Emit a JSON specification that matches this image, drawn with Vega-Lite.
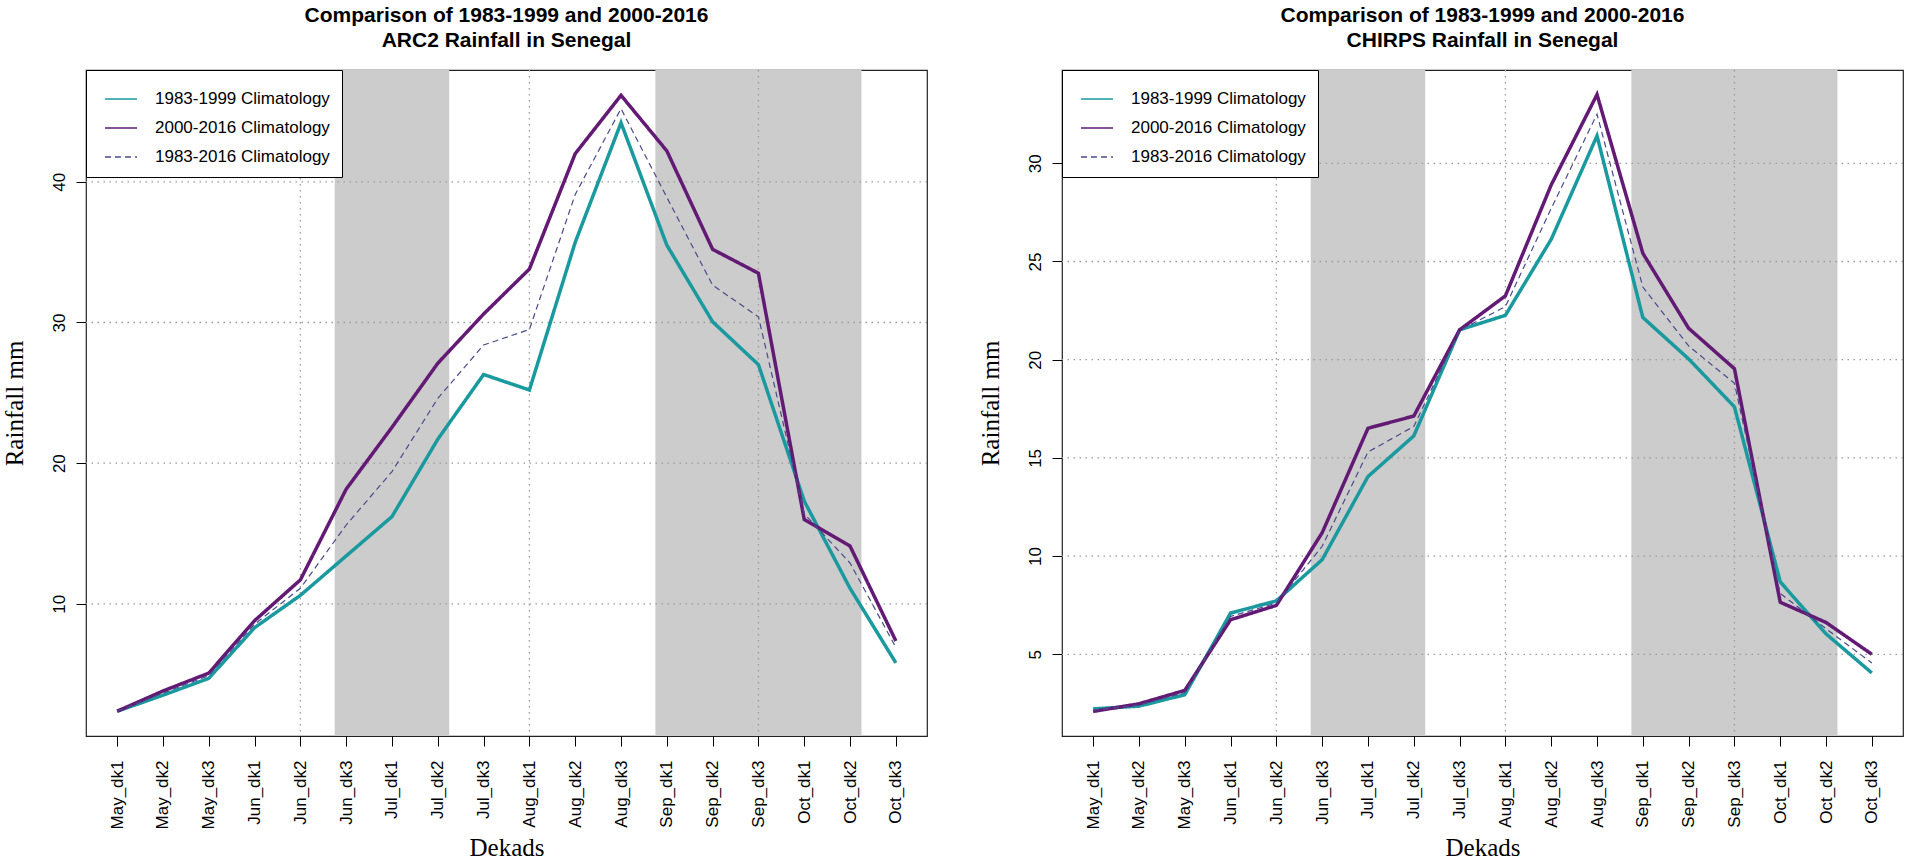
{
  "$schema": "https://vega.github.io/schema/vega-lite/v6.json",
  "background": "white",
  "padding": {"left": 1, "top": 4, "right": 0, "bottom": 0},
  "datasets": {
    "arc2": [
      {"idx": 1, "dekad": "May_dk1", "series": "1983-1999 Climatology", "rain": 2.36},
      {"idx": 2, "dekad": "May_dk2", "series": "1983-1999 Climatology", "rain": 3.5},
      {"idx": 3, "dekad": "May_dk3", "series": "1983-1999 Climatology", "rain": 4.7},
      {"idx": 4, "dekad": "Jun_dk1", "series": "1983-1999 Climatology", "rain": 8.3},
      {"idx": 5, "dekad": "Jun_dk2", "series": "1983-1999 Climatology", "rain": 10.6},
      {"idx": 6, "dekad": "Jun_dk3", "series": "1983-1999 Climatology", "rain": 13.4},
      {"idx": 7, "dekad": "Jul_dk1", "series": "1983-1999 Climatology", "rain": 16.2},
      {"idx": 8, "dekad": "Jul_dk2", "series": "1983-1999 Climatology", "rain": 21.7},
      {"idx": 9, "dekad": "Jul_dk3", "series": "1983-1999 Climatology", "rain": 26.3},
      {"idx": 10, "dekad": "Aug_dk1", "series": "1983-1999 Climatology", "rain": 25.2},
      {"idx": 11, "dekad": "Aug_dk2", "series": "1983-1999 Climatology", "rain": 35.7},
      {"idx": 12, "dekad": "Aug_dk3", "series": "1983-1999 Climatology", "rain": 44.2},
      {"idx": 13, "dekad": "Sep_dk1", "series": "1983-1999 Climatology", "rain": 35.5},
      {"idx": 14, "dekad": "Sep_dk2", "series": "1983-1999 Climatology", "rain": 30.05},
      {"idx": 15, "dekad": "Sep_dk3", "series": "1983-1999 Climatology", "rain": 27.0},
      {"idx": 16, "dekad": "Oct_dk1", "series": "1983-1999 Climatology", "rain": 17.3},
      {"idx": 17, "dekad": "Oct_dk2", "series": "1983-1999 Climatology", "rain": 11.1},
      {"idx": 18, "dekad": "Oct_dk3", "series": "1983-1999 Climatology", "rain": 5.8},
      {"idx": 1, "dekad": "May_dk1", "series": "2000-2016 Climatology", "rain": 2.36},
      {"idx": 2, "dekad": "May_dk2", "series": "2000-2016 Climatology", "rain": 3.8},
      {"idx": 3, "dekad": "May_dk3", "series": "2000-2016 Climatology", "rain": 5.07},
      {"idx": 4, "dekad": "Jun_dk1", "series": "2000-2016 Climatology", "rain": 8.8},
      {"idx": 5, "dekad": "Jun_dk2", "series": "2000-2016 Climatology", "rain": 11.7},
      {"idx": 6, "dekad": "Jun_dk3", "series": "2000-2016 Climatology", "rain": 18.15},
      {"idx": 7, "dekad": "Jul_dk1", "series": "2000-2016 Climatology", "rain": 22.55},
      {"idx": 8, "dekad": "Jul_dk2", "series": "2000-2016 Climatology", "rain": 27.1},
      {"idx": 9, "dekad": "Jul_dk3", "series": "2000-2016 Climatology", "rain": 30.6},
      {"idx": 10, "dekad": "Aug_dk1", "series": "2000-2016 Climatology", "rain": 33.8},
      {"idx": 11, "dekad": "Aug_dk2", "series": "2000-2016 Climatology", "rain": 42.0},
      {"idx": 12, "dekad": "Aug_dk3", "series": "2000-2016 Climatology", "rain": 46.15},
      {"idx": 13, "dekad": "Sep_dk1", "series": "2000-2016 Climatology", "rain": 42.2},
      {"idx": 14, "dekad": "Sep_dk2", "series": "2000-2016 Climatology", "rain": 35.2},
      {"idx": 15, "dekad": "Sep_dk3", "series": "2000-2016 Climatology", "rain": 33.5},
      {"idx": 16, "dekad": "Oct_dk1", "series": "2000-2016 Climatology", "rain": 16.0},
      {"idx": 17, "dekad": "Oct_dk2", "series": "2000-2016 Climatology", "rain": 14.1},
      {"idx": 18, "dekad": "Oct_dk3", "series": "2000-2016 Climatology", "rain": 7.36},
      {"idx": 1, "dekad": "May_dk1", "series": "1983-2016 Climatology", "rain": 2.36},
      {"idx": 2, "dekad": "May_dk2", "series": "1983-2016 Climatology", "rain": 3.65},
      {"idx": 3, "dekad": "May_dk3", "series": "1983-2016 Climatology", "rain": 4.9},
      {"idx": 4, "dekad": "Jun_dk1", "series": "1983-2016 Climatology", "rain": 8.55},
      {"idx": 5, "dekad": "Jun_dk2", "series": "1983-2016 Climatology", "rain": 11.1},
      {"idx": 6, "dekad": "Jun_dk3", "series": "1983-2016 Climatology", "rain": 15.6},
      {"idx": 7, "dekad": "Jul_dk1", "series": "1983-2016 Climatology", "rain": 19.4},
      {"idx": 8, "dekad": "Jul_dk2", "series": "1983-2016 Climatology", "rain": 24.6},
      {"idx": 9, "dekad": "Jul_dk3", "series": "1983-2016 Climatology", "rain": 28.4},
      {"idx": 10, "dekad": "Aug_dk1", "series": "1983-2016 Climatology", "rain": 29.5},
      {"idx": 11, "dekad": "Aug_dk2", "series": "1983-2016 Climatology", "rain": 39.1},
      {"idx": 12, "dekad": "Aug_dk3", "series": "1983-2016 Climatology", "rain": 45.2},
      {"idx": 13, "dekad": "Sep_dk1", "series": "1983-2016 Climatology", "rain": 38.9},
      {"idx": 14, "dekad": "Sep_dk2", "series": "1983-2016 Climatology", "rain": 32.65},
      {"idx": 15, "dekad": "Sep_dk3", "series": "1983-2016 Climatology", "rain": 30.4},
      {"idx": 16, "dekad": "Oct_dk1", "series": "1983-2016 Climatology", "rain": 16.4},
      {"idx": 17, "dekad": "Oct_dk2", "series": "1983-2016 Climatology", "rain": 12.9},
      {"idx": 18, "dekad": "Oct_dk3", "series": "1983-2016 Climatology", "rain": 6.9}
    ],
    "chirps": [
      {"idx": 1, "dekad": "May_dk1", "series": "1983-1999 Climatology", "rain": 2.22},
      {"idx": 2, "dekad": "May_dk2", "series": "1983-1999 Climatology", "rain": 2.36},
      {"idx": 3, "dekad": "May_dk3", "series": "1983-1999 Climatology", "rain": 2.94},
      {"idx": 4, "dekad": "Jun_dk1", "series": "1983-1999 Climatology", "rain": 7.1},
      {"idx": 5, "dekad": "Jun_dk2", "series": "1983-1999 Climatology", "rain": 7.72},
      {"idx": 6, "dekad": "Jun_dk3", "series": "1983-1999 Climatology", "rain": 9.82},
      {"idx": 7, "dekad": "Jul_dk1", "series": "1983-1999 Climatology", "rain": 14.05},
      {"idx": 8, "dekad": "Jul_dk2", "series": "1983-1999 Climatology", "rain": 16.12},
      {"idx": 9, "dekad": "Jul_dk3", "series": "1983-1999 Climatology", "rain": 21.52},
      {"idx": 10, "dekad": "Aug_dk1", "series": "1983-1999 Climatology", "rain": 22.26},
      {"idx": 11, "dekad": "Aug_dk2", "series": "1983-1999 Climatology", "rain": 26.13},
      {"idx": 12, "dekad": "Aug_dk3", "series": "1983-1999 Climatology", "rain": 31.4},
      {"idx": 13, "dekad": "Sep_dk1", "series": "1983-1999 Climatology", "rain": 22.15},
      {"idx": 14, "dekad": "Sep_dk2", "series": "1983-1999 Climatology", "rain": 20.04},
      {"idx": 15, "dekad": "Sep_dk3", "series": "1983-1999 Climatology", "rain": 17.6},
      {"idx": 16, "dekad": "Oct_dk1", "series": "1983-1999 Climatology", "rain": 8.69},
      {"idx": 17, "dekad": "Oct_dk2", "series": "1983-1999 Climatology", "rain": 6.04},
      {"idx": 18, "dekad": "Oct_dk3", "series": "1983-1999 Climatology", "rain": 4.05},
      {"idx": 1, "dekad": "May_dk1", "series": "2000-2016 Climatology", "rain": 2.09},
      {"idx": 2, "dekad": "May_dk2", "series": "2000-2016 Climatology", "rain": 2.48},
      {"idx": 3, "dekad": "May_dk3", "series": "2000-2016 Climatology", "rain": 3.16},
      {"idx": 4, "dekad": "Jun_dk1", "series": "2000-2016 Climatology", "rain": 6.76},
      {"idx": 5, "dekad": "Jun_dk2", "series": "2000-2016 Climatology", "rain": 7.49},
      {"idx": 6, "dekad": "Jun_dk3", "series": "2000-2016 Climatology", "rain": 11.19},
      {"idx": 7, "dekad": "Jul_dk1", "series": "2000-2016 Climatology", "rain": 16.51},
      {"idx": 8, "dekad": "Jul_dk2", "series": "2000-2016 Climatology", "rain": 17.13},
      {"idx": 9, "dekad": "Jul_dk3", "series": "2000-2016 Climatology", "rain": 21.52},
      {"idx": 10, "dekad": "Aug_dk1", "series": "2000-2016 Climatology", "rain": 23.25},
      {"idx": 11, "dekad": "Aug_dk2", "series": "2000-2016 Climatology", "rain": 28.9},
      {"idx": 12, "dekad": "Aug_dk3", "series": "2000-2016 Climatology", "rain": 33.5},
      {"idx": 13, "dekad": "Sep_dk1", "series": "2000-2016 Climatology", "rain": 25.42},
      {"idx": 14, "dekad": "Sep_dk2", "series": "2000-2016 Climatology", "rain": 21.6},
      {"idx": 15, "dekad": "Sep_dk3", "series": "2000-2016 Climatology", "rain": 19.54},
      {"idx": 16, "dekad": "Oct_dk1", "series": "2000-2016 Climatology", "rain": 7.65},
      {"idx": 17, "dekad": "Oct_dk2", "series": "2000-2016 Climatology", "rain": 6.62},
      {"idx": 18, "dekad": "Oct_dk3", "series": "2000-2016 Climatology", "rain": 5.0},
      {"idx": 1, "dekad": "May_dk1", "series": "1983-2016 Climatology", "rain": 2.15},
      {"idx": 2, "dekad": "May_dk2", "series": "1983-2016 Climatology", "rain": 2.42},
      {"idx": 3, "dekad": "May_dk3", "series": "1983-2016 Climatology", "rain": 3.05},
      {"idx": 4, "dekad": "Jun_dk1", "series": "1983-2016 Climatology", "rain": 6.93},
      {"idx": 5, "dekad": "Jun_dk2", "series": "1983-2016 Climatology", "rain": 7.6},
      {"idx": 6, "dekad": "Jun_dk3", "series": "1983-2016 Climatology", "rain": 10.5},
      {"idx": 7, "dekad": "Jul_dk1", "series": "1983-2016 Climatology", "rain": 15.3},
      {"idx": 8, "dekad": "Jul_dk2", "series": "1983-2016 Climatology", "rain": 16.6},
      {"idx": 9, "dekad": "Jul_dk3", "series": "1983-2016 Climatology", "rain": 21.5},
      {"idx": 10, "dekad": "Aug_dk1", "series": "1983-2016 Climatology", "rain": 22.7},
      {"idx": 11, "dekad": "Aug_dk2", "series": "1983-2016 Climatology", "rain": 27.7},
      {"idx": 12, "dekad": "Aug_dk3", "series": "1983-2016 Climatology", "rain": 32.5},
      {"idx": 13, "dekad": "Sep_dk1", "series": "1983-2016 Climatology", "rain": 23.7},
      {"idx": 14, "dekad": "Sep_dk2", "series": "1983-2016 Climatology", "rain": 20.7},
      {"idx": 15, "dekad": "Sep_dk3", "series": "1983-2016 Climatology", "rain": 18.8},
      {"idx": 16, "dekad": "Oct_dk1", "series": "1983-2016 Climatology", "rain": 8.1},
      {"idx": 17, "dekad": "Oct_dk2", "series": "1983-2016 Climatology", "rain": 6.3},
      {"idx": 18, "dekad": "Oct_dk3", "series": "1983-2016 Climatology", "rain": 4.56}
    ],
    "shade": [
      {"start": 5.75, "end": 8.25},
      {"start": 12.75, "end": 17.25}
    ],
    "vgrid": [{"pos": 5}, {"pos": 10}, {"pos": 15}],
    "hgrid_arc2": [{"pos": 10}, {"pos": 20}, {"pos": 30}, {"pos": 40}],
    "hgrid_chirps": [{"pos": 5}, {"pos": 10}, {"pos": 15}, {"pos": 20}, {"pos": 25}, {"pos": 30}]
  },
  "bounds": "flush",
  "spacing": 135,
  "hconcat": [
    {
      "width": 841,
      "height": 666,
      "title": {"text": ["Comparison of 1983-1999 and 2000-2016", "ARC2 Rainfall in Senegal"]},
      "layer": [
        {
          "data": {"name": "shade"},
          "mark": {"type": "rect", "color": "#CCCCCC"},
          "encoding": {
            "x": {"field": "start", "type": "quantitative", "scale": {"domain": [0.32, 18.68], "nice": false, "zero": false}},
            "x2": {"field": "end"}
          }
        },
        {
          "data": {"name": "vgrid"},
          "mark": {"type": "rule", "color": "#9A9A9A", "strokeDash": [1.5, 4.5], "strokeWidth": 1.3},
          "encoding": {
            "x": {"field": "pos", "type": "quantitative", "scale": {"domain": [0.32, 18.68], "nice": false, "zero": false}}
          }
        },
        {
          "data": {"name": "hgrid_arc2"},
          "mark": {"type": "rule", "color": "#9A9A9A", "strokeDash": [1.5, 4.5], "strokeWidth": 1.3},
          "encoding": {
            "y": {"field": "pos", "type": "quantitative", "scale": {"domain": [0.6, 47.95], "nice": false, "zero": false}}
          }
        },
        {
          "data": {"name": "arc2"},
          "mark": {"type": "line"},
          "encoding": {
            "x": {
              "field": "idx", "type": "quantitative",
              "scale": {"domain": [0.32, 18.68], "nice": false, "zero": false},
              "axis": {
                "title": "Dekads",
                "values": [1, 2, 3, 4, 5, 6, 7, 8, 9, 10, 11, 12, 13, 14, 15, 16, 17, 18],
                "labelExpr": "['May_dk1','May_dk2','May_dk3','Jun_dk1','Jun_dk2','Jun_dk3','Jul_dk1','Jul_dk2','Jul_dk3','Aug_dk1','Aug_dk2','Aug_dk3','Sep_dk1','Sep_dk2','Sep_dk3','Oct_dk1','Oct_dk2','Oct_dk3'][datum.value - 1]",
                "labelAngle": 270, "labelAlign": "right", "labelBaseline": "middle", "labelPadding": 14,
                "titleY": 111, "titleBaseline": "middle"
              }
            },
            "y": {
              "field": "rain", "type": "quantitative",
              "scale": {"domain": [0.6, 47.95], "nice": false, "zero": false},
              "axis": {
                "title": "Rainfall mm",
                "values": [10, 20, 30, 40],
                "labelAngle": 270, "labelAlign": "center", "labelBaseline": "bottom", "labelPadding": 8,
                "titleX": -72, "titleY": 333, "titleAngle": 270, "titleAlign": "center", "titleBaseline": "middle"
              }
            },
            "color": {
              "field": "series", "type": "nominal",
              "scale": {"domain": ["1983-1999 Climatology", "2000-2016 Climatology", "1983-2016 Climatology"], "range": ["#1A9A9F", "#621A74", "#4A4A8C"]},
              "legend": {"title": null}
            },
            "strokeDash": {
              "field": "series", "type": "nominal",
              "scale": {"domain": ["1983-1999 Climatology", "2000-2016 Climatology", "1983-2016 Climatology"], "range": [[1, 0], [1, 0], [6, 4]]},
              "legend": {"title": null}
            },
            "strokeWidth": {
              "condition": {"test": "datum.series === '1983-2016 Climatology'", "value": 1.2},
              "value": 3.5
            },
            "order": {"field": "idx"}
          }
        }
      ]
    },
    {
      "width": 841,
      "height": 666,
      "title": {"text": ["Comparison of 1983-1999 and 2000-2016", "CHIRPS Rainfall in Senegal"]},
      "layer": [
        {
          "data": {"name": "shade"},
          "mark": {"type": "rect", "color": "#CCCCCC"},
          "encoding": {
            "x": {"field": "start", "type": "quantitative", "scale": {"domain": [0.32, 18.68], "nice": false, "zero": false}},
            "x2": {"field": "end"}
          }
        },
        {
          "data": {"name": "vgrid"},
          "mark": {"type": "rule", "color": "#9A9A9A", "strokeDash": [1.5, 4.5], "strokeWidth": 1.3},
          "encoding": {
            "x": {"field": "pos", "type": "quantitative", "scale": {"domain": [0.32, 18.68], "nice": false, "zero": false}}
          }
        },
        {
          "data": {"name": "hgrid_chirps"},
          "mark": {"type": "rule", "color": "#9A9A9A", "strokeDash": [1.5, 4.5], "strokeWidth": 1.3},
          "encoding": {
            "y": {"field": "pos", "type": "quantitative", "scale": {"domain": [0.84, 34.75], "nice": false, "zero": false}}
          }
        },
        {
          "data": {"name": "chirps"},
          "mark": {"type": "line"},
          "encoding": {
            "x": {
              "field": "idx", "type": "quantitative",
              "scale": {"domain": [0.32, 18.68], "nice": false, "zero": false},
              "axis": {
                "title": "Dekads",
                "values": [1, 2, 3, 4, 5, 6, 7, 8, 9, 10, 11, 12, 13, 14, 15, 16, 17, 18],
                "labelExpr": "['May_dk1','May_dk2','May_dk3','Jun_dk1','Jun_dk2','Jun_dk3','Jul_dk1','Jul_dk2','Jul_dk3','Aug_dk1','Aug_dk2','Aug_dk3','Sep_dk1','Sep_dk2','Sep_dk3','Oct_dk1','Oct_dk2','Oct_dk3'][datum.value - 1]",
                "labelAngle": 270, "labelAlign": "right", "labelBaseline": "middle", "labelPadding": 14,
                "titleY": 111, "titleBaseline": "middle"
              }
            },
            "y": {
              "field": "rain", "type": "quantitative",
              "scale": {"domain": [0.84, 34.75], "nice": false, "zero": false},
              "axis": {
                "title": "Rainfall mm",
                "values": [5, 10, 15, 20, 25, 30],
                "labelAngle": 270, "labelAlign": "center", "labelBaseline": "bottom", "labelPadding": 8,
                "titleX": -72, "titleY": 333, "titleAngle": 270, "titleAlign": "center", "titleBaseline": "middle"
              }
            },
            "color": {
              "field": "series", "type": "nominal",
              "scale": {"domain": ["1983-1999 Climatology", "2000-2016 Climatology", "1983-2016 Climatology"], "range": ["#1A9A9F", "#621A74", "#4A4A8C"]},
              "legend": {"title": null}
            },
            "strokeDash": {
              "field": "series", "type": "nominal",
              "scale": {"domain": ["1983-1999 Climatology", "2000-2016 Climatology", "1983-2016 Climatology"], "range": [[1, 0], [1, 0], [6, 4]]},
              "legend": {"title": null}
            },
            "strokeWidth": {
              "condition": {"test": "datum.series === '1983-2016 Climatology'", "value": 1.2},
              "value": 3.5
            },
            "order": {"field": "idx"}
          }
        }
      ]
    }
  ],
  "resolve": {
    "scale": {"color": "independent", "strokeDash": "independent"},
    "legend": {"color": "independent", "strokeDash": "independent"}
  },
  "config": {
    "view": {"stroke": "#222222", "strokeWidth": 1.2},
    "title": {
      "font": "Liberation Sans", "fontSize": 21, "fontWeight": "bold", "color": "#000000",
      "lineHeight": 25, "anchor": "middle", "baseline": "bottom", "offset": 18
    },
    "axis": {
      "domain": false, "grid": false,
      "tickColor": "#000000", "tickSize": 10, "tickWidth": 1,
      "labelFont": "Liberation Sans", "labelFontSize": 17, "labelColor": "#000000",
      "titleFont": "Liberation Serif", "titleFontSize": 25, "titleFontWeight": "normal", "titleColor": "#000000"
    },
    "legend": {
      "orient": "top-left", "offset": 0, "padding": 12,
      "strokeColor": "#000000", "fillColor": "#FFFFFF",
      "labelFont": "Liberation Sans", "labelFontSize": 17, "labelColor": "#000000", "labelLimit": 0,
      "symbolType": "stroke", "symbolSize": 1024, "symbolStrokeWidth": 1.5,
      "symbolOffset": 6, "labelOffset": 17, "rowPadding": 4
    }
  }
}
